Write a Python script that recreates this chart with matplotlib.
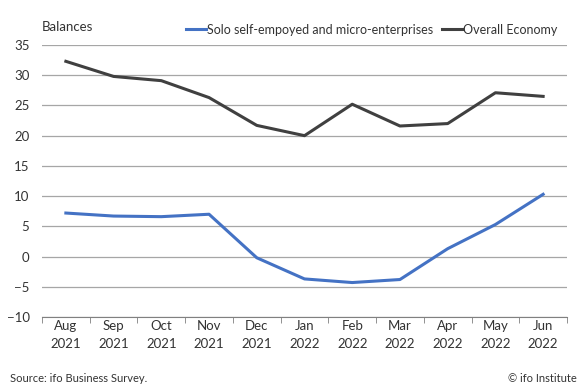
import matplotlib.pyplot as plt
import numpy as np

plt.rcParams['font.family'] = ['Lato', 'DejaVu Sans']

months = ["Aug\n2021", "Sep\n2021", "Oct\n2021", "Nov\n2021", "Dec\n2021", "Jan\n2022",
          "Feb\n2022", "Mar\n2022", "Apr\n2022", "May\n2022", "Jun\n2022"]
solo = [7.2, 6.7, 6.6, 7.0, -0.2, -3.7, -4.3, -3.8, 1.3, 5.3, 10.3]
overall = [32.3, 29.8, 29.1, 26.3, 21.7, 20.0, 25.2, 21.6, 22.0, 27.1, 26.5]

fig = plt.figure(figsize=(5.87, 3.85), dpi=100)
ax = fig.add_axes([42/587, 1 - 317/385, (567-42)/587, (317-45)/385])

x = np.arange(len(months))
ax.plot(x, solo, color="#4472c4", lw=2.2, label="Solo self-empoyed and micro-enterprises")
ax.plot(x, overall, color="#404040", lw=2.2, label="Overall Economy")

ax.set_xlim(-0.5, len(months) - 0.5)
ax.set_ylim(-10, 35)
ax.set_yticks(np.arange(-10, 36, 5))
ax.yaxis.grid(True, color="#a6a6a6", lw=0.9)
ax.set_axisbelow(True)
for s in ["top", "right", "left"]:
    ax.spines[s].set_visible(False)
ax.spines["bottom"].set_color("#808080")
ax.tick_params(axis="y", length=0, labelsize=9.5, colors="#333333", pad=9)
ax.set_xticks(x)
ax.set_xticklabels(months, fontsize=9.5, color="#333333", linespacing=1.6)
ax.tick_params(axis="x", length=0, pad=2)
ax.set_xticks(np.arange(-0.5, len(months), 1), minor=True)
ax.tick_params(axis="x", which="minor", length=4, color="#808080")

fig.text(42/587, 1 - 27/385, "Balances", fontsize=9.5, color="#333333", va="center")
ax.legend(loc="lower right", bbox_to_anchor=(1.0, 1.0), ncol=2, frameon=False,
          fontsize=9, handlelength=1.6, handletextpad=0.1, columnspacing=0.7,
          borderaxespad=0.35, labelcolor="#333333")

fig.text(10/587, 1 - 379/385, "Source: ifo Business Survey.", fontsize=8, color="#333333", va="center")
fig.text(577/587, 1 - 379/385, "\u00a9 ifo Institute", fontsize=8, color="#333333", va="center", ha="right")

fig.savefig("out.png", dpi=100)
